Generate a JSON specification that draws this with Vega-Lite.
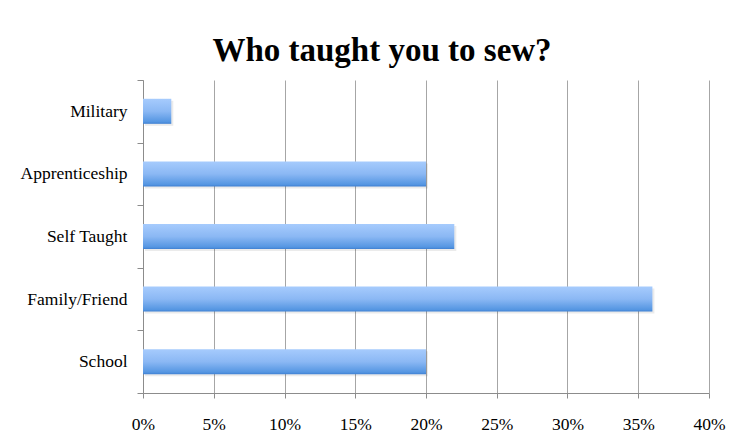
{
  "$schema": "https://vega.github.io/schema/vega-lite/v6.json",
  "width": 566,
  "height": 313,
  "autosize": {"type": "none"},
  "padding": {"left": 143, "top": 80, "right": 41, "bottom": 46},
  "background": "white",
  "title": {
    "text": "Who taught you to sew?",
    "font": "Liberation Serif",
    "fontSize": 33,
    "fontWeight": "bold",
    "color": "black",
    "anchor": "middle",
    "dx": -44,
    "offset": 3
  },
  "data": {
    "values": [
      {"source": "Military", "share": 0.02},
      {"source": "Apprenticeship", "share": 0.20},
      {"source": "Self Taught", "share": 0.22},
      {"source": "Family/Friend", "share": 0.36},
      {"source": "School", "share": 0.20}
    ]
  },
  "encoding": {
    "y": {
      "field": "source",
      "type": "nominal",
      "sort": null,
      "title": null,
      "scale": {"paddingInner": 0, "paddingOuter": 0},
      "axis": {
        "tickBand": "extent",
        "labelFont": "Liberation Serif",
        "labelFontSize": 17.5,
        "labelColor": "black",
        "domainColor": "#8c8c8c",
        "tickColor": "#8c8c8c",
        "tickSize": 6,
        "labelPadding": 10,
        "grid": false
      }
    },
    "x": {
      "field": "share",
      "type": "quantitative",
      "title": null,
      "scale": {"domain": [0, 0.4], "nice": false},
      "axis": {
        "format": ".0%",
        "values": [0, 0.05, 0.1, 0.15, 0.2, 0.25, 0.3, 0.35, 0.4],
        "labelFlush": false,
        "labelFont": "Liberation Serif",
        "labelFontSize": 17.5,
        "labelColor": "black",
        "domainColor": "#8c8c8c",
        "tickColor": "#8c8c8c",
        "gridColor": "#a6a6a6",
        "tickSize": 5,
        "labelPadding": 17,
        "grid": true
      }
    }
  },
  "layer": [
    {
      "mark": {"type": "bar", "height": {"band": 0.4}, "color": "#000000", "opacity": 0.08, "xOffset": 2, "yOffset": 2}
    },
    {
      "mark": {
        "type": "bar",
        "height": {"band": 0.4},
        "color": {
          "gradient": "linear",
          "x1": 0, "y1": 0, "x2": 0, "y2": 1,
          "stops": [
            {"offset": 0, "color": "#a6cbfd"},
            {"offset": 0.5, "color": "#8bb8f4"},
            {"offset": 0.92, "color": "#5596e2"},
            {"offset": 1, "color": "#3f80d2"}
          ]
        }
      }
    }
  ],
  "config": {"view": {"stroke": null}}
}
